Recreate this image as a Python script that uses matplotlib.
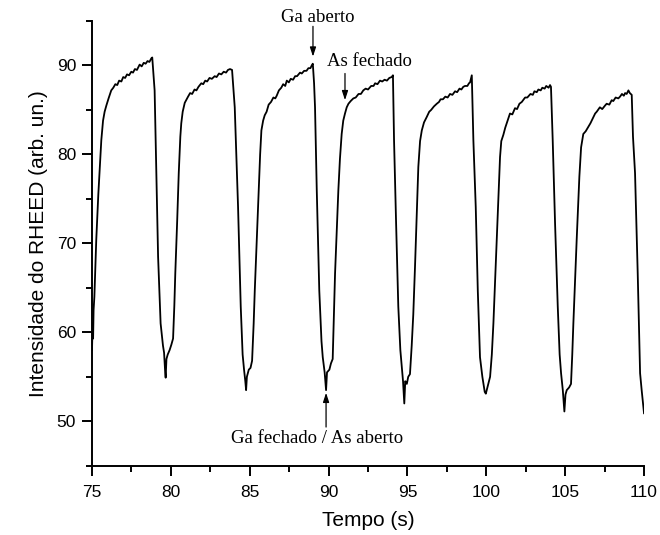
import matplotlib
matplotlib.use('Agg')
import numpy as np
import matplotlib.pyplot as plt
from matplotlib.ticker import MultipleLocator

# trace, one list pair per growth cycle
t1 = [75.00, 75.04, 75.07, 75.10, 75.15, 75.27, 75.40, 75.52, 75.59, 75.70, 75.80, 75.91, 76.05, 76.22, 76.35,
      76.48, 76.60, 76.72, 76.86, 76.98, 77.10, 77.22, 77.35, 77.49, 77.60, 77.72, 77.85, 78.02, 78.15, 78.28,
      78.40, 78.52, 78.64, 78.76, 78.82, 78.97, 79.08, 79.19, 79.35, 79.50, 79.57, 79.64, 79.67, 79.72, 79.80,
      79.92, 80.03, 80.14]
y1 = [58.0, 61.0, 59.3, 62.5, 64.0, 70.4, 75.5, 79.5, 81.6, 83.8, 84.8, 85.5, 86.3, 87.2, 87.5,
      87.9, 87.8, 88.3, 88.2, 88.7, 88.6, 89.0, 88.9, 89.3, 89.2, 89.6, 89.5, 90.1, 89.9, 90.3,
      90.2, 90.5, 90.4, 90.8, 90.9, 87.2, 77.9, 68.5, 61.0, 58.5, 57.7, 55.5, 54.9, 57.0, 57.5,
      58.0, 58.6, 59.3]

t2 = [80.22, 80.28, 80.40, 80.50, 80.60, 80.66, 80.75, 80.88, 81.00, 81.09, 81.22, 81.35, 81.50, 81.62, 81.75,
      81.93, 82.05, 82.18, 82.30, 82.45, 82.60, 82.78, 82.90, 83.05, 83.20, 83.35, 83.50, 83.62, 83.75, 83.88,
      84.05, 84.15, 84.26, 84.43, 84.55, 84.64, 84.72, 84.77, 84.82, 84.94, 85.05, 85.15]
y2 = [63.0, 66.6, 72.5, 77.9, 82.0, 83.5, 84.8, 85.8, 86.2, 86.5, 86.9, 86.8, 87.3, 87.2, 87.6,
      88.0, 87.9, 88.3, 88.2, 88.6, 88.5, 88.8, 88.7, 89.1, 89.0, 89.3, 89.2, 89.5, 89.6, 89.5,
      85.3, 80.0, 74.1, 62.9, 57.5, 55.8, 54.5, 53.5, 55.0, 55.8, 56.0, 56.8]

t3 = [85.25, 85.32, 85.45, 85.57, 85.66, 85.74, 85.85, 85.95, 86.07, 86.20, 86.35, 86.50, 86.62, 86.71, 86.85,
      87.00, 87.12, 87.25, 87.35, 87.48, 87.60, 87.75, 87.88, 88.00, 88.19, 88.30, 88.45, 88.60, 88.72, 88.85,
      88.93, 89.00, 89.08, 89.14, 89.25, 89.41, 89.55, 89.63, 89.75, 89.84, 89.90, 90.05, 90.15, 90.26]
y3 = [61.0, 64.7, 70.5, 76.0, 80.0, 82.7, 83.8, 84.4, 84.8, 85.6, 85.9, 86.4, 86.3, 86.6, 87.2,
      87.5, 87.9, 87.7, 88.3, 88.1, 88.5, 88.4, 88.8, 88.8, 89.2, 89.1, 89.4, 89.4, 89.7, 89.7,
      90.0, 90.2, 88.0, 85.3, 76.0, 64.7, 59.0, 57.2, 55.5, 53.5, 55.5, 55.8, 56.5, 57.0]

t4 = [90.35, 90.41, 90.52, 90.62, 90.72, 90.83, 90.93, 91.04, 91.15, 91.26, 91.40, 91.57, 91.72, 91.90, 92.05,
      92.20, 92.35, 92.50, 92.70, 92.85, 92.95, 93.10, 93.26, 93.40, 93.55, 93.70, 93.85, 94.00, 94.08, 94.15,
      94.28, 94.42, 94.55, 94.64, 94.72, 94.80, 94.86, 94.96, 95.05, 95.16]
y4 = [63.0, 66.6, 71.5, 76.0, 79.5, 82.3, 83.8, 84.6, 85.3, 85.7, 86.0, 86.3, 86.4, 86.8, 86.8,
      87.2, 87.4, 87.3, 87.7, 87.7, 88.0, 87.9, 88.3, 88.2, 88.4, 88.3, 88.6, 88.7, 88.9, 81.6,
      72.3, 62.9, 58.0, 56.1, 54.5, 52.0, 54.5, 54.2, 55.0, 55.3]

t5 = [95.27, 95.37, 95.48, 95.60, 95.69, 95.80, 95.91, 96.05, 96.22, 96.38, 96.50, 96.68, 96.86, 97.00, 97.10,
      97.25, 97.40, 97.55, 97.70, 97.85, 98.02, 98.15, 98.30, 98.42, 98.54, 98.65, 98.80, 98.90, 98.97, 99.05,
      99.08, 99.18, 99.33, 99.46, 99.60, 99.75, 99.90, 99.97, 100.10, 100.24]
y5 = [58.5, 62.0, 67.4, 74.0, 78.6, 81.5, 82.7, 83.6, 84.2, 84.8, 85.0, 85.4, 85.7, 85.9, 86.2,
      86.2, 86.5, 86.4, 86.8, 86.7, 87.1, 87.0, 87.4, 87.3, 87.6, 87.7, 87.7, 88.0, 88.1, 88.7,
      88.9, 81.6, 74.1, 64.7, 57.2, 55.0, 53.3, 53.1, 54.0, 55.0]

t6 = [100.35, 100.45, 100.66, 100.87, 100.95, 101.08, 101.20, 101.35, 101.50, 101.65, 101.82, 101.95, 102.10,
      102.25, 102.46, 102.60, 102.80, 102.95, 103.05, 103.20, 103.30, 103.45, 103.55, 103.70, 103.80, 103.95,
      104.04, 104.10, 104.21, 104.36, 104.53, 104.65, 104.74, 104.85, 104.95, 105.02, 105.10, 105.25, 105.37]
y6 = [57.5, 61.0, 70.4, 79.7, 81.5, 82.2, 83.0, 83.8, 84.6, 84.5, 85.2, 85.1, 85.7,
      85.9, 86.4, 86.4, 86.8, 86.7, 87.1, 87.0, 87.3, 87.2, 87.5, 87.4, 87.7, 87.5,
      87.8, 87.6, 81.6, 72.2, 62.9, 57.5, 55.4, 53.5, 51.1, 53.0, 53.5, 53.8, 54.2]

t7 = [105.45, 105.52, 105.73, 105.90, 106.01, 106.15, 106.30, 106.47, 106.60, 106.79, 106.90, 107.00, 107.20,
      107.35, 107.53, 107.63, 107.80, 107.95, 108.05, 108.20, 108.37, 108.48, 108.60, 108.72, 108.80, 108.90,
      109.01, 109.10, 109.22, 109.30, 109.43, 109.60, 109.75, 109.85, 110.00]
y7 = [57.5, 61.0, 70.4, 77.5, 80.8, 82.3, 82.6, 83.1, 83.5, 84.2, 84.6, 84.8, 85.3,
      85.1, 85.5, 85.7, 85.6, 86.1, 86.0, 86.4, 86.3, 86.5, 86.8, 86.6, 86.9, 86.8,
      87.2, 86.9, 86.7, 82.0, 77.9, 66.6, 55.4, 53.5, 50.9]

x_ticks = [75, 80, 85, 90, 95, 100, 105, 110]
y_ticks = [50, 60, 70, 80, 90]

t = np.concatenate([t1, t2, t3, t4, t5, t6, t7])
y = np.concatenate([y1, y2, y3, y4, y5, y6, y7])

fig = plt.figure(figsize=(6.6, 5.35), dpi=100)
ax = fig.add_axes([0.1394, 0.1295, 0.8364, 0.8312])
ax.plot(t, y, color='black', lw=1.3)

ax.set_xlim(75, 110)
ax.set_ylim(45, 95)
ax.set_xticks(x_ticks)
ax.set_yticks(y_ticks)
ax.xaxis.set_minor_locator(MultipleLocator(2.5))
ax.yaxis.set_minor_locator(MultipleLocator(5))
ax.spines['top'].set_visible(False)
ax.spines['right'].set_visible(False)
for s in ['left', 'bottom']:
    ax.spines[s].set_linewidth(1.4)
ax.tick_params(which='major', direction='out', length=7.5, width=1.4, labelsize=12.5)
ax.tick_params(which='minor', direction='out', length=4, width=1.4)
ax.tick_params(axis='x', which='major', pad=6.5)
ax.tick_params(axis='y', which='major', pad=4)
for lab in ax.get_xticklabels() + ax.get_yticklabels():
    lab.set_family('Liberation Sans')

ax.set_xlabel('Tempo (s)', fontsize=15, family='Liberation Sans', labelpad=8)
ax.set_ylabel('Intensidade do RHEED (arb. un.)', fontsize=15, family='Liberation Sans', labelpad=6)

# annotations
serif = dict(fontsize=13.5, family='Liberation Serif', ha='center', va='center')
arr = dict(arrowstyle='-|>,head_length=0.55,head_width=0.18', color='black', lw=0.9, shrinkA=0, shrinkB=0)

ax.text(89.33, 95.4, 'Ga aberto', clip_on=False, **serif)
ax.annotate('', xy=(89.01, 91.0), xytext=(89.01, 94.4), arrowprops=arr, annotation_clip=False)

ax.text(92.60, 90.47, 'As fechado', **serif)
ax.annotate('', xy=(91.04, 86.1), xytext=(91.04, 89.1), arrowprops=arr)

ax.text(89.27, 48.11, 'Ga fechado / As aberto', **serif)
ax.annotate('', xy=(89.84, 53.2), xytext=(89.84, 49.35), arrowprops=arr)

fig.savefig('out.png', dpi=100)
